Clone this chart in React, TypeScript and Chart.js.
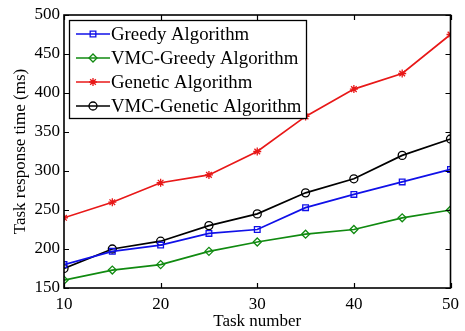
import React, { useEffect, useRef } from "react";
import { Chart, registerables } from "chart.js";

Chart.register(...registerables);

const taskNumbers = [10, 15, 20, 25, 30, 35, 40, 45, 50];
const greedy = [180, 197, 205, 220, 225, 253, 270, 286, 302];
const vmcGreedy = [160, 173, 180, 197, 209, 219, 225, 240, 250];
const genetic = [240, 260, 285, 295, 325, 370, 405, 425, 475];
const vmcGenetic = [175, 200, 210, 230, 245, 272, 290, 320, 341];
const seriesLabels = [
  "Greedy Algorithm",
  "VMC-Greedy Algorithm",
  "Genetic Algorithm",
  "VMC-Genetic Algorithm",
];
const xTickValues = [10, 20, 30, 40, 50];
const yTickValues = [150, 200, 250, 300, 350, 400, 450, 500];
const xTitle = "Task number";
const yTitle = "Task response time (ms)";

const FONT = "'Liberation Serif', 'Times New Roman', serif";

function drawMarker(ctx: CanvasRenderingContext2D, style: string, x: number, y: number, r: number) {
  ctx.beginPath();
  if (style === "rect") {
    const s = r * Math.SQRT1_2;
    ctx.rect(x - s, y - s, 2 * s, 2 * s);
  } else if (style === "rectRot") {
    ctx.moveTo(x - r, y);
    ctx.lineTo(x, y - r);
    ctx.lineTo(x + r, y);
    ctx.lineTo(x, y + r);
    ctx.closePath();
  } else if (style === "circle") {
    ctx.arc(x, y, r, 0, Math.PI * 2);
  } else if (style === "star") {
    for (let i = 0; i < 4; i++) {
      const a = (i * Math.PI) / 4;
      ctx.moveTo(x - Math.cos(a) * r, y - Math.sin(a) * r);
      ctx.lineTo(x + Math.cos(a) * r, y + Math.sin(a) * r);
    }
  }
  ctx.stroke();
}

const framePlugin = {
  id: "frameAndLegend",
  afterDraw(chart: any) {
    const { ctx, chartArea } = chart;
    const { left, right, top, bottom } = chartArea;
    const xs = chart.scales.x;
    const ys = chart.scales.y;
    ctx.save();
    ctx.strokeStyle = "#000";
    ctx.lineWidth = 1.6;
    ctx.strokeRect(left, top, right - left, bottom - top);
    const tl = 5;
    ctx.lineWidth = 1.2;
    ctx.beginPath();
    xTickValues.forEach((v) => {
      const px = Math.round(xs.getPixelForValue(v)) + 0.5;
      ctx.moveTo(px, bottom);
      ctx.lineTo(px, bottom - tl);
      ctx.moveTo(px, top);
      ctx.lineTo(px, top + tl);
    });
    yTickValues.forEach((v) => {
      const py = Math.round(ys.getPixelForValue(v)) + 0.5;
      ctx.moveTo(left, py);
      ctx.lineTo(left + tl, py);
      ctx.moveTo(right, py);
      ctx.lineTo(right - tl, py);
    });
    ctx.stroke();

    // legend
    const bx = left + 5;
    const by = top + 5;
    const bw = 237;
    const bh = 98;
    ctx.fillStyle = "#fff";
    ctx.fillRect(bx, by, bw, bh);
    ctx.strokeStyle = "#000";
    ctx.lineWidth = 1.3;
    ctx.strokeRect(bx + 0.5, by + 0.5, bw, bh);
    ctx.font = `18.8px ${FONT}`;
    ctx.textBaseline = "middle";
    ctx.textAlign = "left";
    chart.data.datasets.forEach((ds: any, i: number) => {
      const cy = by + 14 + i * 24;
      ctx.strokeStyle = ds.borderColor;
      ctx.lineWidth = 1.7;
      ctx.beginPath();
      ctx.moveTo(bx + 7, cy);
      ctx.lineTo(bx + 41, cy);
      ctx.stroke();
      ctx.lineWidth = 1.3;
      drawMarker(ctx, ds.pointStyle, bx + 24, cy, ds.pointRadius);
      ctx.fillStyle = "#000";
      ctx.fillText(ds.label, bx + 42, cy + 1);
    });
    ctx.restore();
  },
};

export default function App() {
  const ref = useRef<HTMLCanvasElement | null>(null);
  useEffect(() => {
    if (!ref.current) return;
    const mk = (label: string, vals: number[], color: string, style: string) => ({
      label,
      data: taskNumbers.map((x, i) => ({ x, y: vals[i] })),
      borderColor: color,
      backgroundColor: "transparent",
      borderWidth: 1.7,
      pointStyle: style,
      pointRadius: 4,
      pointBorderWidth: 1.3,
      pointBorderColor: color,
      pointBackgroundColor: "transparent",
      tension: 0,
    });
    const chart = new Chart(ref.current, {
      type: "line",
      data: {
        datasets: [
          mk(seriesLabels[0], greedy, "#1010e8", "rect"),
          mk(seriesLabels[1], vmcGreedy, "#108a10", "rectRot"),
          mk(seriesLabels[2], genetic, "#e81818", "star"),
          mk(seriesLabels[3], vmcGenetic, "#000000", "circle"),
        ] as any,
      },
      options: {
        animation: false,
        responsive: false,
        maintainAspectRatio: false,
        layout: { padding: { top: 15, right: 9, left: 0, bottom: 0 } },
        plugins: { legend: { display: false }, tooltip: { enabled: false } },
        scales: {
          x: {
            type: "linear",
            min: 10,
            max: 50,
            afterBuildTicks: (s: any) => {
              s.ticks = xTickValues.map((v) => ({ value: v }));
            },
            afterFit: (s: any) => {
              s.height = 43;
            },
            grid: { display: false, drawTicks: false },
            border: { display: false },
            ticks: { color: "#000", padding: 6, font: { family: FONT, size: 17 }, maxRotation: 0 },
            title: {
              display: true,
              text: xTitle,
              color: "#000",
              font: { family: FONT, size: 17, lineHeight: 1.1 },
              padding: { top: 0, bottom: 0 },
            },
          },
          y: {
            type: "linear",
            min: 150,
            max: 500,
            afterBuildTicks: (s: any) => {
              s.ticks = yTickValues.map((v) => ({ value: v }));
            },
            afterFit: (s: any) => {
              s.width = 64;
            },
            grid: { display: false, drawTicks: false },
            border: { display: false },
            ticks: { color: "#000", padding: 4, font: { family: FONT, size: 17 } },
            title: {
              display: true,
              text: yTitle,
              color: "#000",
              font: { family: FONT, size: 17 },
              padding: { top: 10, bottom: 0 },
            },
          },
        },
      } as any,
      plugins: [framePlugin],
    });
    return () => chart.destroy();
  }, []);
  return (
    <div style={{ position: "absolute", left: 0, top: 0, width: 465, height: 331, background: "#fff" }}>
      <canvas ref={ref} width={465} height={331} style={{ width: 465, height: 331 }} />
    </div>
  );
}
